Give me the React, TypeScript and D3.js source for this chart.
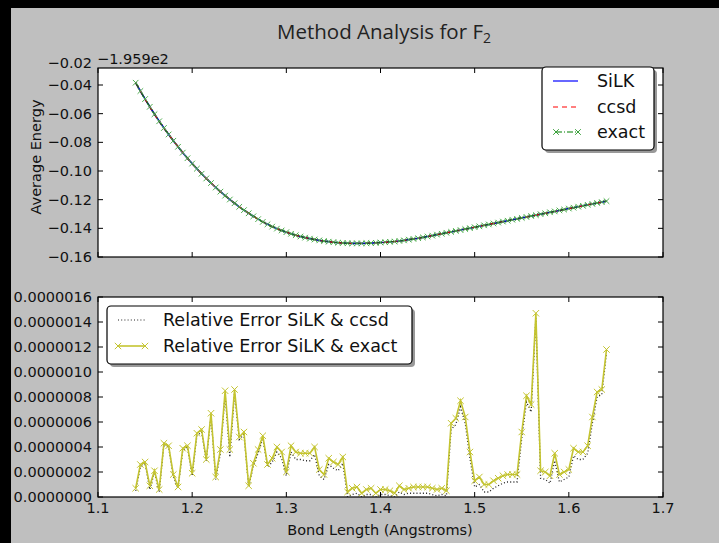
import * as d3 from 'd3';

const W = 719;
const H = 543;
const FRAME = { left: 11, top: 8 };
const PLOT = { left: 98, right: 663 };
const TOP_AX = { top: 68, bottom: 257 };
const BOT_AX = { top: 297, bottom: 497 };
const FONT = "'DejaVu Sans', 'Bitstream Vera Sans', sans-serif";

// bond length grid (Angstroms)
const BOND_START = 1.14;
const BOND_STEP = 0.005;

// average energy, offset from -195.9 hartree
const silkEnergy = [
  -0.0384, -0.0442, -0.0498, -0.0552, -0.0604, -0.0653, -0.07, -0.0745, -0.0789, -0.0831,
  -0.0872, -0.0911, -0.0948, -0.0984, -0.1019, -0.1052, -0.1084, -0.1115, -0.1144, -0.1172,
  -0.1199, -0.1225, -0.125, -0.1273, -0.1295, -0.1316, -0.1336, -0.1355, -0.1372, -0.1388,
  -0.1402, -0.1415, -0.1427, -0.1438, -0.1448, -0.1457, -0.1465, -0.1472, -0.1478, -0.1484,
  -0.1489, -0.1493, -0.1497, -0.15, -0.1502, -0.1504, -0.1505, -0.1505, -0.1505, -0.1504,
  -0.1503, -0.1501, -0.1499, -0.1497, -0.1494, -0.1492, -0.1488, -0.1484, -0.1479, -0.1474,
  -0.1469, -0.1463, -0.1457, -0.1451, -0.1444, -0.1438, -0.1431, -0.1425, -0.1418, -0.1412,
  -0.1405, -0.1399, -0.1392, -0.1386, -0.1379, -0.1373, -0.1366, -0.136, -0.1353, -0.1347,
  -0.134, -0.1334, -0.1327, -0.1321, -0.1314, -0.1308, -0.1301, -0.1295, -0.1288, -0.1282,
  -0.1275, -0.1269, -0.1262, -0.1256, -0.1249, -0.1243, -0.1236, -0.123, -0.1223, -0.1217,
  -0.121,
];
// ccsd and exact lie on top of SiLK at this scale
const ccsdEnergy = silkEnergy;
const exactEnergy = silkEnergy;

// relative errors, in units of 1e-7
const ERR_UNIT = 1e-7;
const errSilkCcsd = [
  0.5, 2.4, 2.7, 0.6, 2.0, 0.4, 4.2, 4.0, 1.6, 0.7,
  3.7, 4.0, 1.7, 4.9, 5.2, 2.9, 6.5, 1.4, 3.5, 8.2,
  3.2, 8.3, 4.6, 5.0, 0.8, 2.5, 3.5, 4.7, 2.4, 2.8,
  3.6, 3.1, 1.7, 3.6, 3.0, 3.0, 2.9, 2.9, 3.4, 1.7,
  1.4, 2.6, 2.3, 2.1, 2.7, 0.0, 0.2, 0.3, 0.0, 0.2,
  0.2, 0.0, 0.2, 0.2, 0.1, 0.0, 0.4, 0.2, 0.3, 0.3,
  0.3, 0.3, 0.3, 0.2, 0.1, 0.2, 0.1, 5.4, 5.8, 7.2,
  5.9, 3.1, 0.8, 1.0, 0.4, 0.4, 0.7, 0.9, 1.1, 1.2,
  1.2, 1.2, 4.7, 7.6, 6.8, 14.3, 1.5, 1.4, 1.1, 2.9,
  1.2, 1.4, 1.6, 3.3, 3.0, 3.0, 3.5, 5.9, 8.0, 8.2,
  11.5,
];
const errSilkExact = [
  0.7, 2.6, 2.8, 0.9, 2.1, 0.6, 4.3, 4.1, 1.8, 0.8,
  3.9, 4.1, 1.9, 5.1, 5.4, 3.0, 6.7, 1.6, 3.8, 8.5,
  3.8, 8.6, 4.8, 5.2, 0.9, 2.7, 3.8, 4.9, 2.6, 3.1,
  4.0, 3.6, 2.0, 4.1, 3.6, 3.5, 3.5, 3.5, 4.0, 2.2,
  1.8, 3.1, 2.8, 2.6, 3.2, 0.4, 0.7, 0.8, 0.3, 0.6,
  0.7, 0.3, 0.6, 0.6, 0.5, 0.3, 0.9, 0.6, 0.7, 0.8,
  0.8, 0.8, 0.8, 0.7, 0.6, 0.7, 0.5, 5.9, 6.3, 7.7,
  6.4, 3.6, 1.3, 1.6, 1.0, 1.0, 1.3, 1.5, 1.7, 1.8,
  1.8, 1.8, 5.2, 8.1, 7.4, 14.7, 2.1, 2.0, 1.7, 3.5,
  1.8, 2.0, 2.2, 3.9, 3.6, 3.6, 4.1, 6.4, 8.4, 8.6,
  11.8,
];

const xTicks = [1.1, 1.2, 1.3, 1.4, 1.5, 1.6, 1.7];
const energyTicks = [-0.16, -0.14, -0.12, -0.1, -0.08, -0.06, -0.04, -0.02];
const errTicks = [0, 2, 4, 6, 8, 10, 12, 14, 16];

const bond = (i: number) => BOND_START + BOND_STEP * i;

const xMark = (s: number) => `M${-s},${-s}L${s},${s}M${-s},${s}L${s},${-s}`;

const App = () => {
  const xScale = d3.scaleLinear().domain([1.1, 1.7]).range([PLOT.left, PLOT.right]);
  const yTop = d3.scaleLinear().domain([-0.16, -0.04]).range([257, 85]);
  const yBot = d3.scaleLinear().domain([0, 16 * ERR_UNIT]).range([BOT_AX.bottom, BOT_AX.top]);

  const energyLine = d3
    .line<number>()
    .x((_, i) => xScale(bond(i)))
    .y((d) => yTop(d));
  const errLine = d3
    .line<number>()
    .x((_, i) => xScale(bond(i)))
    .y((d) => yBot(d * ERR_UNIT));

  const fmtE = d3.format('.2f');
  const fmtErr = d3.format('.7f');
  const plotW = PLOT.right - PLOT.left;

  const ticksFor = (top: number, bottom: number, yPos: number[]) => (
    <g stroke="#000" strokeWidth={1}>
      {xTicks.map((t) => (
        <g key={'x' + t}>
          <line x1={xScale(t)} x2={xScale(t)} y1={top} y2={top + 5} />
          <line x1={xScale(t)} x2={xScale(t)} y1={bottom} y2={bottom - 5} />
        </g>
      ))}
      {yPos
        .filter((y) => y >= top - 0.5 && y <= bottom + 0.5)
        .map((y, i) => (
          <g key={'y' + i}>
            <line x1={PLOT.left} x2={PLOT.left + 5} y1={y} y2={y} />
            <line x1={PLOT.right} x2={PLOT.right - 5} y1={y} y2={y} />
          </g>
        ))}
    </g>
  );

  return (
    <svg width={W} height={H} style={{ position: 'absolute', left: 0, top: 0 }} fontFamily={FONT}>
      <rect x={0} y={0} width={W} height={H} fill="#000" />
      <rect x={FRAME.left} y={FRAME.top} width={W - FRAME.left} height={H - FRAME.top} fill="#bfbfbf" />

      <defs>
        <clipPath id="clipTop">
          <rect x={PLOT.left} y={TOP_AX.top} width={plotW} height={TOP_AX.bottom - TOP_AX.top} />
        </clipPath>
        <clipPath id="clipBot">
          <rect x={PLOT.left} y={BOT_AX.top} width={plotW} height={BOT_AX.bottom - BOT_AX.top} />
        </clipPath>
      </defs>

      {/* title */}
      <text x={384} y={39} textAnchor="middle" fontFamily="'Open Sans', sans-serif" fontSize={20.5} fill="#222">
        Method Analysis for F<tspan fontSize={14} dy={4}>2</tspan>
      </text>

      {/* ---- top panel ---- */}
      <rect x={PLOT.left} y={TOP_AX.top} width={plotW} height={TOP_AX.bottom - TOP_AX.top} fill="#fff" />
      <g clipPath="url(#clipTop)">
        <path d={energyLine(silkEnergy) || ''} fill="none" stroke="#0000cc" strokeWidth={1.6} />
        <path d={energyLine(ccsdEnergy) || ''} fill="none" stroke="#cc0000" strokeWidth={1.4} strokeDasharray="5,4" />
        <path d={energyLine(exactEnergy) || ''} fill="none" stroke="#1a5a2a" strokeWidth={1.4} strokeDasharray="6,2,1,2" />
        {exactEnergy.map((d, i) => (
          <path
            key={i}
            d={xMark(2.8)}
            transform={`translate(${xScale(bond(i))},${yTop(d)})`}
            stroke="#4fae4f"
            strokeWidth={1}
            fill="none"
          />
        ))}
      </g>
      <rect x={PLOT.left} y={TOP_AX.top} width={plotW} height={TOP_AX.bottom - TOP_AX.top} fill="none" stroke="#000" strokeWidth={1.2} />
      {ticksFor(TOP_AX.top, TOP_AX.bottom, energyTicks.map((t) => yTop(t)))}
      <g fontSize={14.5} fill="#111" textAnchor="end">
        {energyTicks.map((t) => (
          <text key={t} x={92} y={Math.max(yTop(t), 63)} dy="0.35em">
            {fmtE(t)}
          </text>
        ))}
      </g>
      <text x={97} y={64} fontSize={14.5} fill="#111">
        {'\u22121.959e2'}
      </text>
      <text transform="translate(36,157) rotate(-90)" textAnchor="middle" dy="0.35em" fontSize={14.5} fill="#111">
        Average Energy
      </text>

      {/* top legend */}
      <rect x={545} y={70} width={112} height={83} rx={4} fill="#555" opacity={0.6} />
      <rect x={542} y={67} width={112} height={83} rx={4} fill="#fff" stroke="#000" strokeWidth={1.2} />
      <g fontSize={17.5} fill="#111">
        <line x1={553} x2={578} y1={81} y2={81} stroke="#0000ff" strokeWidth={1.2} />
        <text x={597} y={81} dy="0.35em">SiLK</text>
        <line x1={553} x2={578} y1={107} y2={107} stroke="#ff0000" strokeWidth={1.2} strokeDasharray="5,4" />
        <text x={597} y={107} dy="0.35em">ccsd</text>
        <line x1={556} x2={578} y1={132} y2={132} stroke="#008000" strokeWidth={1.2} strokeDasharray="6,2,1,2" />
        {[556, 578].map((x) => (
          <path key={x} d={xMark(2.8)} transform={`translate(${x},132)`} stroke="#3aa03a" fill="none" />
        ))}
        <text x={597} y={132} dy="0.35em">exact</text>
      </g>

      {/* ---- bottom panel ---- */}
      <rect x={PLOT.left} y={BOT_AX.top} width={plotW} height={BOT_AX.bottom - BOT_AX.top} fill="#fff" />
      <g clipPath="url(#clipBot)">
        <path d={errLine(errSilkCcsd) || ''} fill="none" stroke="#222" strokeWidth={1.3} strokeDasharray="1,2.2" />
        <path d={errLine(errSilkExact) || ''} fill="none" stroke="#c4c430" strokeWidth={1.6} />
        {errSilkExact.map((d, i) => (
          <path
            key={i}
            d={xMark(3.2)}
            transform={`translate(${xScale(bond(i))},${yBot(d * ERR_UNIT)})`}
            stroke="#c4c430"
            strokeWidth={1}
            fill="none"
          />
        ))}
      </g>
      <rect x={PLOT.left} y={BOT_AX.top} width={plotW} height={BOT_AX.bottom - BOT_AX.top} fill="none" stroke="#000" strokeWidth={1.2} />
      {ticksFor(BOT_AX.top, BOT_AX.bottom, errTicks.map((t) => yBot(t * ERR_UNIT)))}
      <g fontSize={14.5} fill="#111" textAnchor="end">
        {errTicks.map((t) => (
          <text key={t} x={92} y={yBot(t * ERR_UNIT)} dy="0.35em">
            {fmtErr(t * ERR_UNIT)}
          </text>
        ))}
      </g>
      <g fontSize={14.5} fill="#111" textAnchor="middle">
        {xTicks.map((t) => (
          <text key={t} x={xScale(t)} y={513}>
            {d3.format('.1f')(t)}
          </text>
        ))}
      </g>
      <text x={380} y={535} textAnchor="middle" fontSize={14.5} fill="#111">
        Bond Length (Angstroms)
      </text>

      {/* bottom legend */}
      <rect x={110} y={309} width={305} height={58} rx={4} fill="#555" opacity={0.6} />
      <rect x={107} y={306} width={305} height={58} rx={4} fill="#fff" stroke="#000" strokeWidth={1.2} />
      <g fontSize={17.5} fill="#111">
        <line x1={118} x2={145} y1={320} y2={320} stroke="#222" strokeWidth={1.2} strokeDasharray="1,2.2" />
        <text x={163} y={320} dy="0.35em">Relative Error SiLK &amp; ccsd</text>
        <line x1={118} x2={145} y1={346} y2={346} stroke="#c4c430" strokeWidth={1.6} />
        {[118, 145].map((x) => (
          <path key={x} d={xMark(3.2)} transform={`translate(${x},346)`} stroke="#c4c430" fill="none" />
        ))}
        <text x={163} y={346} dy="0.35em">Relative Error SiLK &amp; exact</text>
      </g>
    </svg>
  );
};

export default App;
